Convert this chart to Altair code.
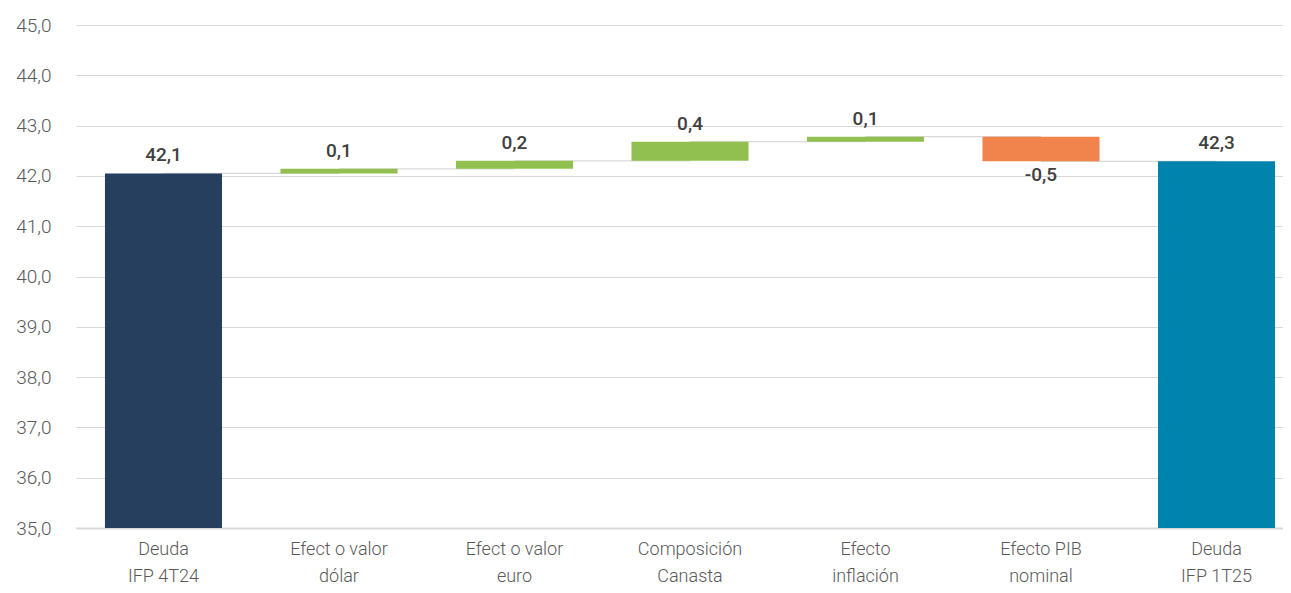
import altair as alt
import pandas as pd

categories = ["Deuda|IFP 4T24", "Efect o valor|dólar", "Efect o valor|euro",
              "Composición|Canasta", "Efecto|inflación", "Efecto PIB|nominal", "Deuda|IFP 1T25"]
bar_low = [35.0, 42.05, 42.14, 42.30, 42.68, 42.29, 35.0]
bar_high = [42.05, 42.14, 42.30, 42.68, 42.78, 42.78, 42.29]
kinds = ["inicio", "sube", "sube", "sube", "sube", "baja", "fin"]
labels = ["42,1", "0,1", "0,2", "0,4", "0,1", "-0,5", "42,3"]
levels = [42.05, 42.14, 42.30, 42.68, 42.78, 42.29]  # connector levels after each bar

df = pd.DataFrame({"cat": categories, "low": bar_low, "high": bar_high,
                   "kind": kinds, "label": labels})
conn = pd.DataFrame({"cat": categories[:-1], "next": categories[1:], "level": levels})

FONT = "Roboto"
x_scale = alt.Scale(domain=categories, range=[0, 1228], paddingInner=0.333, paddingOuter=0.165)
y_scale = alt.Scale(domain=[35, 45], nice=False, zero=False)

x_enc = alt.X("cat:N", scale=x_scale, sort=categories, title=None,
              axis=alt.Axis(labelExpr="split(datum.value, '|')", labelAngle=0,
                            labelAlign="center",
                            labelFontSize=18, labelColor="#595959", labelFont=FONT,
                            labelFontWeight=300, labelLineHeight=27, labelPadding=12,
                            ticks=False, domainColor="#d9d9d9", domainWidth=2,
                            labelBaseline="top"))

rules = alt.Chart(conn).mark_rule(color="#d9d9d9", strokeWidth=1.2).encode(
    x=alt.X("cat:N", scale=x_scale, sort=categories),
    x2="next:N",
    y=alt.Y("level:Q", scale=y_scale),
)

bars = alt.Chart(df).mark_bar().encode(
    x=x_enc,
    y=alt.Y("low:Q", scale=y_scale, title=None,
            axis=alt.Axis(values=list(range(35, 46)),
                          labelExpr="replace(format(datum.value, '.1f'), '.', ',')",
                          labelFontSize=19, labelColor="#595959", labelFont=FONT,
                          labelFontWeight=300, labelPadding=25, ticks=False,
                          domain=False, gridColor="#d9d9d9", gridWidth=1.2)),
    y2="high:Q",
    color=alt.Color("kind:N",
                    scale=alt.Scale(domain=["inicio", "sube", "baja", "fin"],
                                    range=["#263f5e", "#92c050", "#f0844c", "#0083ad"]),
                    legend=None),
)

text_up = alt.Chart(df).transform_filter("datum.kind != 'baja'").mark_text(
    baseline="bottom", dy=-8, fontSize=19, fontWeight=500, color="#404040", font=FONT
).encode(x=alt.X("cat:N", scale=x_scale, sort=categories), y=alt.Y("high:Q", scale=y_scale), text="label:N")

text_down = alt.Chart(df).transform_filter("datum.kind == 'baja'").mark_text(
    baseline="top", dy=5, fontSize=19, fontWeight=500, color="#404040", font=FONT
).encode(x=alt.X("cat:N", scale=x_scale, sort=categories), y=alt.Y("low:Q", scale=y_scale), text="label:N")

chart = alt.layer(rules, bars, text_up, text_down).properties(
    width=1207, height=503,
    autosize=alt.AutoSizeParams(type="none"),
    padding={"left": 68, "top": 17, "right": 0, "bottom": 57},
).configure_view(stroke=None).configure_axis(gridColor="#d9d9d9")

chart.save("out.html", embed_options={"renderer": "svg", "actions": False})
